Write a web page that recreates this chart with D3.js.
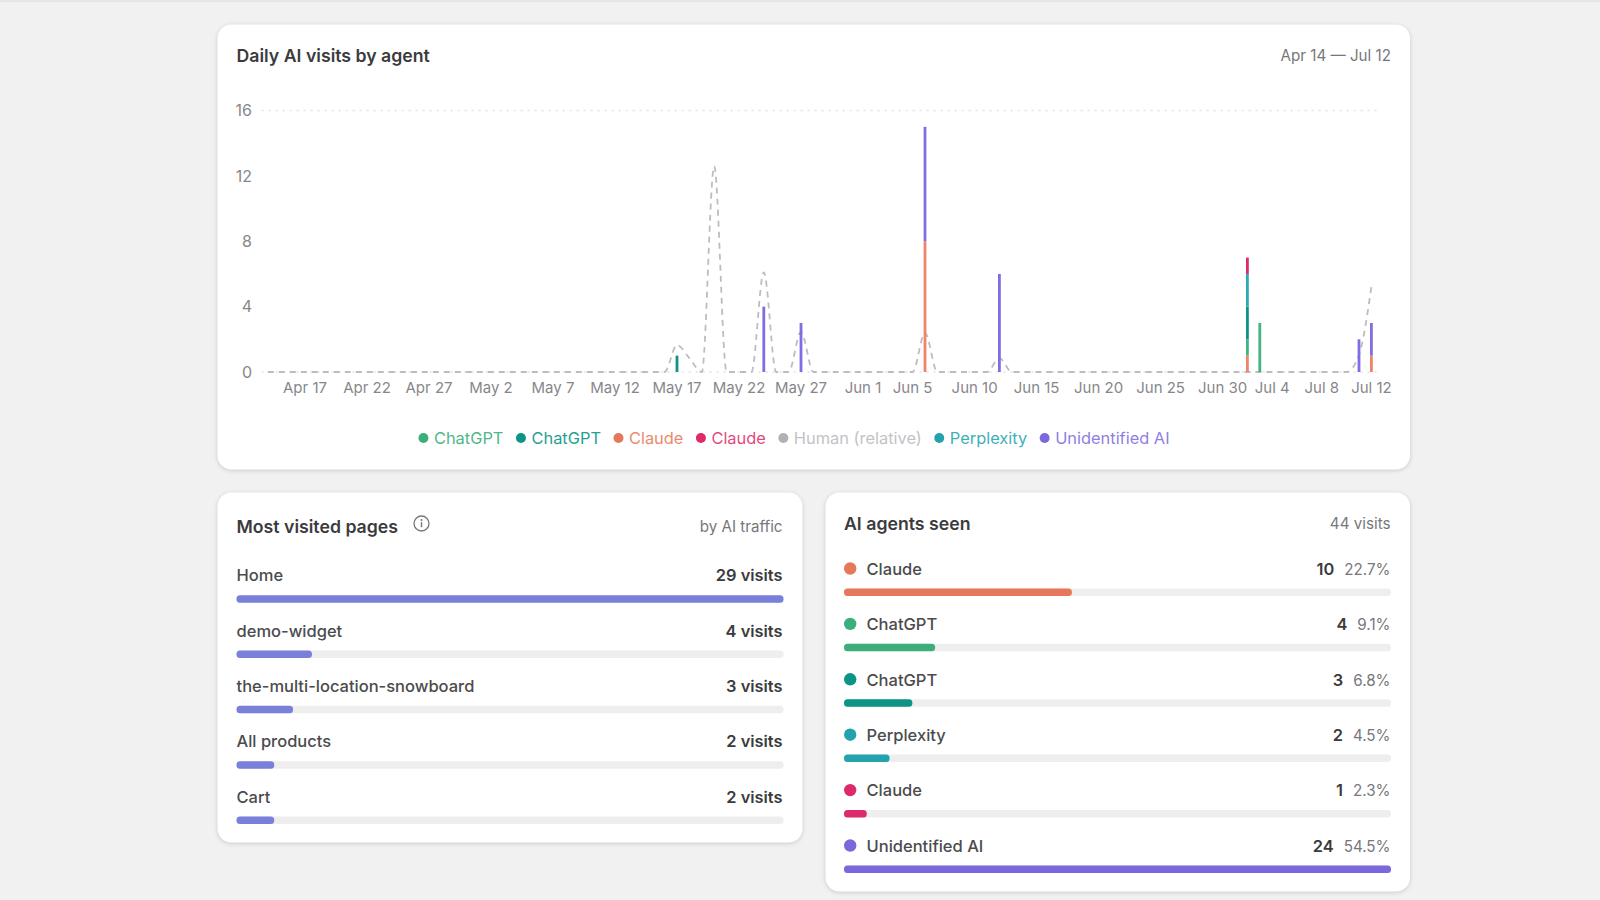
<!DOCTYPE html>
<html>
<head>
<meta charset="utf-8">
<script src="https://cdn.jsdelivr.net/npm/d3@7/dist/d3.min.js"></script>
<style>
	html, body { margin: 0; padding: 0; background: #f1f1f1; }
	svg { display: block; font-family: Inter, "Noto Sans", sans-serif; }
	.card { fill: #fff; filter: drop-shadow(0 1px 2px rgba(0, 0, 0, .16)); }
	.title { font-size: 17.7px; font-weight: 600; fill: #3b3b3d; }
	.note { font-size: 15.2px; fill: #77777b; }
	.axis text { font-family: Inter, "Noto Sans", sans-serif; font-size: 15px; fill: #87878b; }
	.axisY text { font-size: 16px; }
	.axis path, .axis line { display: none; }
	.rowLabel { font-size: 16.5px; font-weight: 500; fill: #4b4b4d; }
	.rowValue { font-size: 16.4px; font-weight: 600; fill: #3b3b3d; }
</style>
</head>
<body>
<svg id="page" width="1600" height="900"></svg>
<script>
"use strict";

// daily chart
var firstDay = new Date(2025, 3, 14),
	lastDay = new Date(2025, 6, 13);
var tickLabels = ["Apr 17", "Apr 22", "Apr 27", "May 2", "May 7", "May 12", "May 17", "May 22", "May 27",
	"Jun 1", "Jun 5", "Jun 10", "Jun 15", "Jun 20", "Jun 25", "Jun 30", "Jul 4", "Jul 8", "Jul 12"];
var yTicks = [0, 4, 8, 12, 16];

// only the days that had a visit
var visitDays = ["May 17", "May 24", "May 27", "Jun 6", "Jun 12", "Jul 2", "Jul 3", "Jul 11", "Jul 12"];
var claudeOrange = [0, 0, 0, 8, 0, 1, 0, 0, 1];
var chatgptGreen = [0, 0, 0, 0, 0, 1, 3, 0, 0];
var chatgptTeal = [1, 0, 0, 0, 0, 2, 0, 0, 0];
var perplexity = [0, 0, 0, 0, 0, 2, 0, 0, 0];
var claudePink = [0, 0, 0, 0, 0, 1, 0, 0, 0];
var unidentified = [0, 4, 3, 7, 6, 0, 0, 2, 2];

// human line, zero on every other day
var humanDays = ["May 17", "May 18", "May 20", "May 24", "May 27", "Jun 6", "Jun 12", "Jul 11", "Jul 12"];
var humanValues = [1.65, 0.85, 12.6, 6.1, 2.45, 2.4, 0.85, 1.05, 5.2];

var legendNames = ["ChatGPT", "ChatGPT", "Claude", "Claude", "Human (relative)", "Perplexity", "Unidentified AI"];
var legendColors = ["#3cae7c", "#0c9486", "#e5785a", "#dd2a6a", "#b0b1b5", "#22a3ad", "#7a68dc"];
var legendTextColors = ["#4fb78a", "#25a093", "#e98a6f", "#e14a80", "#c2c3c6", "#3fb0b9", "#8e7fe2"];

// most visited pages
var pageNames = ["Home", "demo-widget", "the-multi-location-snowboard", "All products", "Cart"];
var pageVisits = [29, 4, 3, 2, 2];

// agents
var agentNames = ["Claude", "ChatGPT", "ChatGPT", "Perplexity", "Claude", "Unidentified AI"];
var agentVisits = [10, 4, 3, 2, 1, 24];
var agentShares = ["22.7%", "9.1%", "6.8%", "4.5%", "2.3%", "54.5%"];
var agentColors = ["#e5785a", "#3cae7c", "#0c9486", "#22a3ad", "#dd2a6a", "#7a68dc"];

var oSvg = d3.select("#page");
var fmtDay = d3.timeFormat("%b %-d");
var allDays = d3.timeDay.range(firstDay, lastDay).map(fmtDay);

function addCard(iX, iY, iW, iH) {
	oSvg.append("rect").attr("class", "card").attr("x", iX).attr("y", iY)
		.attr("width", iW).attr("height", iH).attr("rx", 14);
}

function addText(sClass, iX, iY, sText, sAnchor) {
	return oSvg.append("text").attr("class", sClass).attr("x", iX).attr("y", iY)
		.attr("dy", "0.35em").attr("text-anchor", sAnchor || "start").text(sText);
}

oSvg.append("rect").attr("width", 1600).attr("height", 2).attr("fill", "#e6e6e6");

addCard(217.5, 24.5, 1192.5, 445);
addCard(217.5, 492.5, 585, 350);
addCard(825.5, 492.5, 584.5, 399);

addText("title", 236.5, 56, "Daily AI visits by agent");
addText("note", 1391, 55.5, "Apr 14 \u2014 Jul 12", "end");

// scales for the daily chart
var x = d3.scaleBand().domain(allDays).range([261.6, 1377.6]);
var y = d3.scaleLinear().domain([0, 16]).range([372, 110.5]);

var oGrid = oSvg.append("g");
[0, 16].forEach(function(iValue) {
	oGrid.append("line")
		.attr("x1", x.range()[0]).attr("x2", x.range()[1])
		.attr("y1", y(iValue)).attr("y2", y(iValue))
		.attr("stroke", "#e2e2e4").attr("stroke-width", 1.5).attr("stroke-dasharray", "2 5");
});

oSvg.append("g").attr("class", "axis")
	.attr("transform", "translate(0," + 378.8 + ")")
	.call(d3.axisBottom(x).tickValues(tickLabels).tickSize(0).tickPadding(0))
	.selectAll("text").attr("dy", "0.95em");

oSvg.append("g").attr("class", "axis axisY")
	.attr("transform", "translate(252,0)")
	.call(d3.axisLeft(y).tickValues(yTicks).tickSize(0).tickPadding(0));

// human line below the bars
var aHuman = allDays.map(function(sDay) {
	var i = humanDays.indexOf(sDay);
	return { day: sDay, value: i < 0 ? 0 : humanValues[i] };
});
var oLine = d3.line()
	.x(function(d) { return x(d.day) + x.bandwidth() / 2; })
	.y(function(d) { return y(d.value); })
	.curve(d3.curveMonotoneX);
oSvg.append("path").datum(aHuman)
	.attr("d", oLine)
	.attr("fill", "none")
	.attr("stroke", "#bcbdc1")
	.attr("stroke-width", 1.8)
	.attr("stroke-dasharray", "6 5");

// stacked bars, bottom to top
var aSeries = [
	{ color: "#ee8568", values: claudeOrange },
	{ color: "#45b284", values: chatgptGreen },
	{ color: "#0c9486", values: chatgptTeal },
	{ color: "#2fa9b5", values: perplexity },
	{ color: "#dd2a6a", values: claudePink },
	{ color: "#7e6ee4", values: unidentified }
];
var aRows = visitDays.map(function(sDay, i) {
	var oRow = { day: sDay };
	aSeries.forEach(function(oSeries, j) { oRow["s" + j] = oSeries.values[i]; });
	return oRow;
});
var aStack = d3.stack().keys(aSeries.map(function(d, j) { return "s" + j; }))(aRows);

oSvg.append("g").selectAll("g").data(aStack).join("g")
	.attr("fill", function(d, j) { return aSeries[j].color; })
	.selectAll("rect")
	.data(function(d) { return d.filter(function(p) { return p[1] > p[0]; }); })
	.join("rect")
	.attr("x", function(d) { return x(d.data.day) + x.bandwidth() / 2 - 1.4; })
	.attr("width", 2.8)
	.attr("y", function(d) { return y(d[1]); })
	.attr("height", function(d) { return y(d[0]) - y(d[1]); });

// legend, centred under the chart
var oLegend = oSvg.append("g");
var iLegendX = 0;
legendNames.forEach(function(sName, i) {
	var oItem = oLegend.append("g").attr("transform", "translate(" + iLegendX + ",438)");
	oItem.append("circle").attr("cx", 5).attr("r", 5).attr("fill", legendColors[i]);
	var oText = oItem.append("text").attr("x", 15.5).attr("dy", "0.35em")
		.attr("font-size", 16.4).attr("font-weight", 400).attr("fill", legendTextColors[i]).text(sName);
	iLegendX += 15.5 + oText.node().getComputedTextLength() + 12.5;
});
oLegend.attr("transform", "translate(" + (794 - (iLegendX - 12.5) / 2) + ",0)");

// most visited pages
addText("title", 236.5, 526.8, "Most visited pages");
oSvg.append("circle").attr("cx", 421.5).attr("cy", 523.5).attr("r", 7.5)
	.attr("fill", "none").attr("stroke", "#77777b").attr("stroke-width", 1.3);
oSvg.append("circle").attr("cx", 421.5).attr("cy", 520).attr("r", 1).attr("fill", "#77777b");
oSvg.append("rect").attr("x", 420.8).attr("y", 522.2).attr("width", 1.4).attr("height", 5).attr("fill", "#77777b");
addText("note", 782.5, 527, "by AI traffic", "end");

var xPages = d3.scaleLinear().domain([0, 29]).range([236.5, 783.5]);
var yPages = d3.scalePoint().domain(pageNames).range([575.5, 796.8]);

pageNames.forEach(function(sName, i) {
	var iY = yPages(sName);
	addText("rowLabel", 236.5, iY, sName);
	addText("rowValue", 782.5, iY, pageVisits[i] + " visits", "end");
	oSvg.append("rect").attr("x", xPages(0)).attr("y", iY + 19.7)
		.attr("width", xPages.range()[1] - xPages(0)).attr("height", 7.5).attr("rx", 3.5).attr("fill", "#eeeeee");
	oSvg.append("rect").attr("x", xPages(0)).attr("y", iY + 19.7)
		.attr("width", xPages(pageVisits[i]) - xPages(0)).attr("height", 7.5).attr("rx", 3.5).attr("fill", "#7a80da");
});

// agents seen
addText("title", 844, 523.5, "AI agents seen");
addText("note", 1390.5, 523.5, "44 visits", "end");

var xAgents = d3.scaleLinear().domain([0, 24]).range([844, 1391]);
var yAgents = d3.scaleLinear().domain([0, 5]).range([569, 846]);

agentNames.forEach(function(sName, i) {
	var iY = yAgents(i);
	oSvg.append("circle").attr("cx", 850.2).attr("cy", iY - 0.5).attr("r", 6.2).attr("fill", agentColors[i]);
	addText("rowLabel", 866.5, iY, sName);
	var oShare = addText("note", 1390.5, iY + 0.5, agentShares[i], "end");
	addText("rowValue", 1390.5 - oShare.node().getComputedTextLength() - 10, iY, agentVisits[i], "end");
	oSvg.append("rect").attr("x", xAgents(0)).attr("y", iY + 19.4)
		.attr("width", xAgents.range()[1] - xAgents(0)).attr("height", 7.5).attr("rx", 3.5).attr("fill", "#eeeeee");
	oSvg.append("rect").attr("x", xAgents(0)).attr("y", iY + 19.4)
		.attr("width", xAgents(agentVisits[i]) - xAgents(0)).attr("height", 7.5).attr("rx", 3.5).attr("fill", agentColors[i]);
});
</script>
</body>
</html>
